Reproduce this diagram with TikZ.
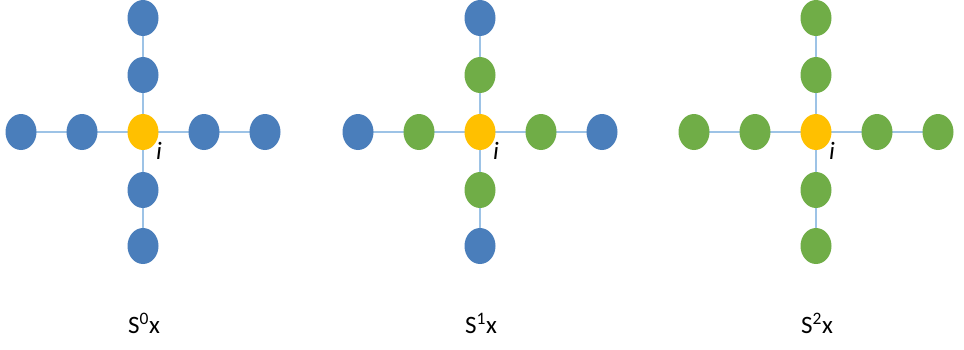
\documentclass[tikz,border=0pt]{standalone}
\usepackage{fontspec}
\setmainfont{Carlito}
\usetikzlibrary{shapes.geometric,backgrounds}
\definecolor{nodeblue}{HTML}{4A7EBB}
\definecolor{nodegreen}{HTML}{70AD47}
\definecolor{centeryellow}{HTML}{FFC000}
\definecolor{linkblue}{HTML}{9DC3E6}

\begin{document}
\begin{tikzpicture}[x=1pt, y=-1pt, every node/.style={font=\fontsize{25}{30}\selectfont},
  vtx/.style={ellipse, minimum width=31pt, minimum height=36pt, inner sep=0pt},
  link/.style={draw=linkblue, line width=1.2pt}]
\useasboundingbox (0,0) rectangle (964,349);
\foreach \p/\cx/\inner/\outer/\k in {a/143/nodeblue/nodeblue/0, b/480/nodegreen/nodeblue/1, c/816/nodegreen/nodegreen/2} {
  % centre node i and its two rings
  \node[vtx, fill=centeryellow] (\p c) at (\cx,132) {};
  \node[vtx, fill=\inner] (\p l1) at (\cx-61,132) {};
  \node[vtx, fill=\inner] (\p r1) at (\cx+61,132) {};
  \node[vtx, fill=\inner] (\p u1) at (\cx,75) {};
  \node[vtx, fill=\inner] (\p d1) at (\cx,190) {};
  \node[vtx, fill=\outer] (\p l2) at (\cx-122,132) {};
  \node[vtx, fill=\outer] (\p r2) at (\cx+122,132) {};
  \node[vtx, fill=\outer] (\p u2) at (\cx,18) {};
  \node[vtx, fill=\outer] (\p d2) at (\cx,246) {};
  \begin{scope}[on background layer]
    \draw[link] (\p l2.center) -- (\p r2.center);
    \draw[link] (\p u2.center) -- (\p d2.center);
  \end{scope}
  \node (\p i) at (\cx+16,151) {\textit{i}};
  \node (\p lab) at (\cx+1,323) {S\textsuperscript{\k}x};
}
\end{tikzpicture}
\end{document}
